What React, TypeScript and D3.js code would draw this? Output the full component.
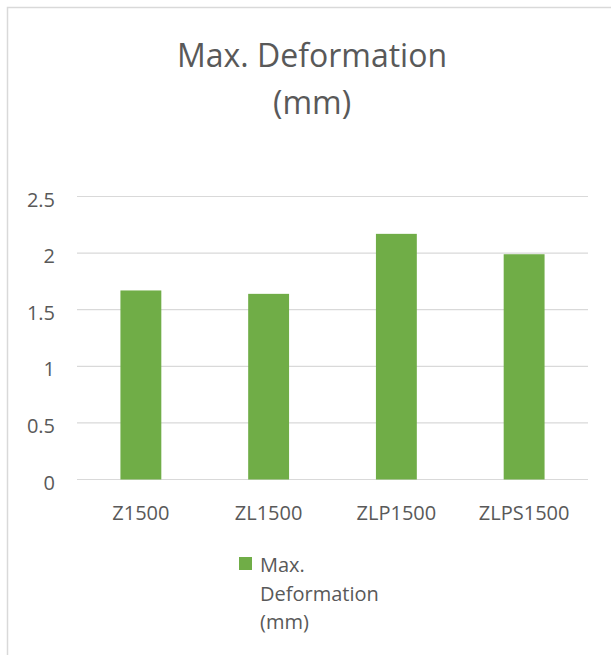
import React from "react";
import * as d3 from "d3";

const categories = ["Z1500", "ZL1500", "ZLP1500", "ZLPS1500"];
const values = [1.67, 1.64, 2.17, 1.99];
const yTicks = [0, 0.5, 1, 1.5, 2, 2.5];
const seriesName = ["Max.", "Deformation", "(mm)"];
const titleLines = ["Max. Deformation", "(mm)"];

const W = 611;
const H = 655;
const FONT = "'Open Sans', sans-serif";
const TEXT = "#595959";
const GRID = "#D9D9D9";
const GREEN = "#70AD47";

export default function App() {
  const x = d3.scaleBand<string>().domain(categories).range([77, 588]).padding(0);
  const y = d3.scaleLinear().domain([0, 2.5]).range([479.5, 196.5]);
  const bw = x.bandwidth() * 0.32;

  return (
    <svg
      width={W}
      height={H}
      style={{ position: "absolute", left: 0, top: 0, background: "#fff" }}
      fontFamily={FONT}
    >
      <rect x={0} y={0} width={W} height={H} fill="#fff" />
      <rect x={7.5} y={7.5} width={800} height={800} fill="none" stroke={GRID} strokeWidth={1.5} />

      {titleLines.map((t, i) => (
        <text key={t} x={312} y={66.5 + i * 47.5} textAnchor="middle" fontSize={32} fill={TEXT}>
          {t}
        </text>
      ))}

      {yTicks.map((t) => (
        <g key={t}>
          <line x1={77} x2={588} y1={y(t)} y2={y(t)} stroke={GRID} strokeWidth={1.2} />
          <text x={55} y={y(t) + 10} textAnchor="end" fontSize={20} fill={TEXT}>
            {String(t)}
          </text>
        </g>
      ))}

      {categories.map((c, i) => {
        const cx = (x(c) as number) + x.bandwidth() / 2;
        return (
          <g key={c}>
            <rect x={cx - bw / 2} y={y(values[i])} width={bw} height={y(0) - y(values[i])} fill={GREEN} />
            <text x={cx} y={520} textAnchor="middle" fontSize={20} fill={TEXT}>
              {c}
            </text>
          </g>
        );
      })}

      <rect x={239} y={557} width={13} height={13} fill={GREEN} />
      {seriesName.map((s, i) => (
        <text key={s} x={260} y={572 + i * 28.5} fontSize={20} fill={TEXT}>
          {s}
        </text>
      ))}
    </svg>
  );
}
